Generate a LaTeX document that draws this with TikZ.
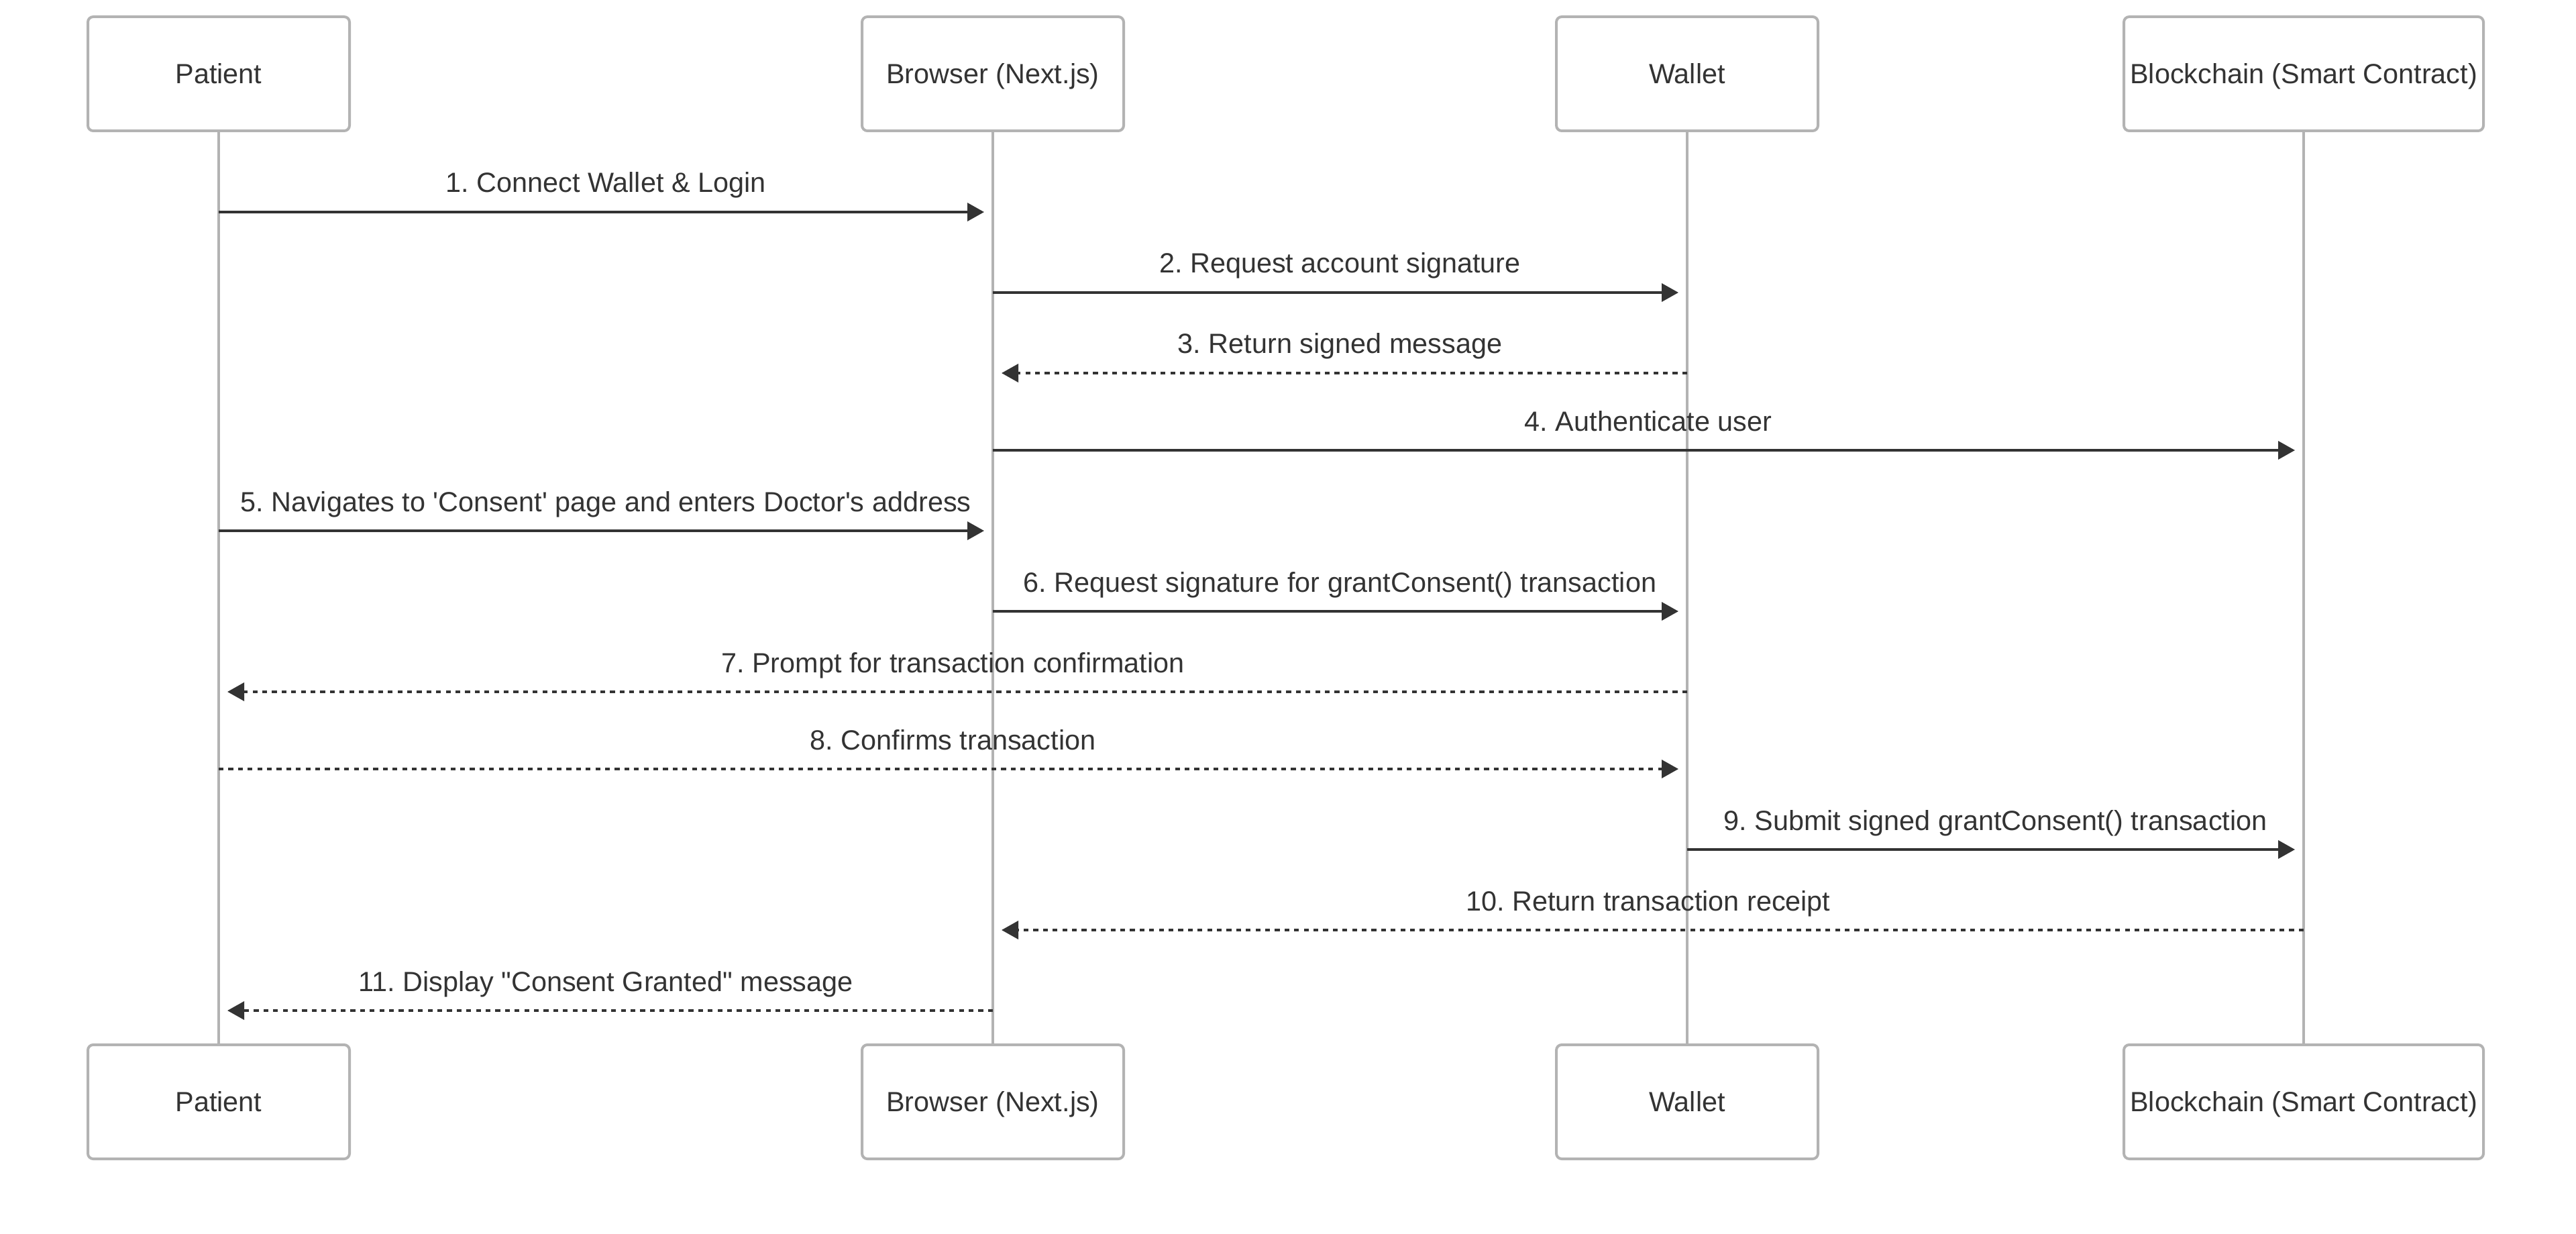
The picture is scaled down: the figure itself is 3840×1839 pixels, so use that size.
\documentclass[tikz,border=0pt]{standalone}
\usepackage{fontspec}
\setmainfont{Liberation Sans}[Ligatures=TeXOff]
\usetikzlibrary{arrows.meta}
\definecolor{ink}{HTML}{333333}
\definecolor{rule}{HTML}{B3B3B3}
\frenchspacing
\begin{document}
\begin{tikzpicture}[x=0.25pt,y=-0.25pt,
  every node/.style={font=\fontsize{10.35}{12.4}\selectfont, text=ink},
  actor/.style={draw=rule, line width=1pt, rounded corners=2pt, fill=white,
    minimum width=97.5pt, minimum height=42.5pt, inner sep=0pt,
    text height=7.4pt, text depth=0pt},
  lifeline/.style={draw=rule, line width=0.8pt},
  msg/.style={draw=ink, line width=0.9pt, shorten >=3.25pt,
    -{Triangle[length=6.25pt,width=6.75pt]}},
  reply/.style={msg, dash pattern=on 1.8pt off 1.8pt},
  lbl/.style={midway, anchor=base, yshift=7.25pt, inner sep=0pt}]
\useasboundingbox (0,0) rectangle (3840,1839);

% participants, top and bottom
\node[actor] (pt) at (326,110) {Patient};
\node[actor] (bt) at (1480,110) {Browser (Next.js)};
\node[actor] (wt) at (2515,110) {Wallet};
\node[actor, minimum width=134pt] (ct) at (3434,110) {Blockchain (Smart Contract)};
\node[actor] (pb) at (326,1642) {Patient};
\node[actor] (bb) at (1480,1642) {Browser (Next.js)};
\node[actor] (wb) at (2515,1642) {Wallet};
\node[actor, minimum width=134pt] (cb) at (3434,1642) {Blockchain (Smart Contract)};

% lifelines
\draw[lifeline] (pt.south) -- (pb.north);
\draw[lifeline] (bt.south) -- (bb.north);
\draw[lifeline] (wt.south) -- (wb.north);
\draw[lifeline] (ct.south) -- (cb.north);

% message anchors on the lifelines
\foreach \n/\y in {1/316,2/436,3/556,4/671,5/791,6/911,7/1031,8/1146,9/1266,10/1386,11/1506}{
  \coordinate (P\n) at (326,\y);
  \coordinate (B\n) at (1480,\y);
  \coordinate (W\n) at (2515,\y);
  \coordinate (C\n) at (3434,\y);
}

% messages
\draw[msg]   (P1) -- (B1) node[lbl] {1. Connect Wallet \& Login};
\draw[msg]   (B2) -- (W2) node[lbl] {2. Request account signature};
\draw[reply] (W3) -- (B3) node[lbl] {3. Return signed message};
\draw[msg]   (B4) -- (C4) node[lbl] {4. Authenticate user};
\draw[msg]   (P5) -- (B5) node[lbl] {5. Navigates to 'Consent' page and enters Doctor's address};
\draw[msg]   (B6) -- (W6) node[lbl] {6. Request signature for grantConsent() transaction};
\draw[reply] (W7) -- (P7) node[lbl] {7. Prompt for transaction confirmation};
\draw[reply] (P8) -- (W8) node[lbl] {8. Confirms transaction};
\draw[msg]   (W9) -- (C9) node[lbl] {9. Submit signed grantConsent() transaction};
\draw[reply] (C10) -- (B10) node[lbl] {10. Return transaction receipt};
\draw[reply] (B11) -- (P11) node[lbl] {11. Display "Consent Granted" message};
\end{tikzpicture}
\end{document}
